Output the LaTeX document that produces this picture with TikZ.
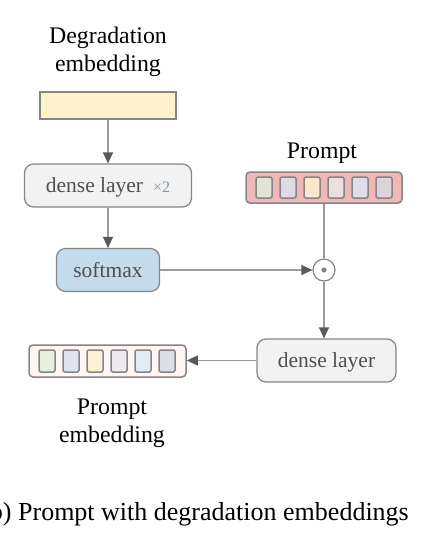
\documentclass[tikz,border=0pt]{standalone}
\usepackage{fontspec}
\setmainfont{Liberation Serif}
\usetikzlibrary{arrows.meta}
\definecolor{edgec}{HTML}{858585}
\definecolor{tipc}{HTML}{595959}
\definecolor{linec}{HTML}{9A9A9A}
\definecolor{txtg}{HTML}{4F4F4F}
\definecolor{boxgray}{HTML}{F2F2F2}
\definecolor{softc}{HTML}{C3DBEB}
\definecolor{yellowc}{HTML}{FFF2CC}
\definecolor{promptc}{HTML}{F2B8B8}
\definecolor{pec}{HTML}{FFF5F3}
\definecolor{xblue}{HTML}{7B96C0}
\definecolor{pa}{HTML}{E2E5D5}
\definecolor{pb}{HTML}{DEDBE6}
\definecolor{pcc}{HTML}{FDE6CB}
\definecolor{pd}{HTML}{EAE0E0}
\definecolor{pe}{HTML}{DEDDEA}
\definecolor{pf}{HTML}{DAD4DA}
\definecolor{ea}{HTML}{E5F0DD}
\definecolor{eb}{HTML}{DDE3F0}
\definecolor{ec}{HTML}{FFF1D6}
\definecolor{ed}{HTML}{EDEBEE}
\definecolor{ee}{HTML}{E0EBF5}
\definecolor{ef}{HTML}{DCDFE6}
\begin{document}
\begin{tikzpicture}[x=1pt,y=-1pt,
  box/.style={draw=edgec, line width=1.2pt, rounded corners=9pt, fill=boxgray, text=txtg,
    font=\fontsize{21.5}{25}\selectfont, inner sep=0pt, minimum height=43pt, text depth=0pt},
  label/.style={align=center, inner sep=0pt, font=\fontsize{23.8}{28}\selectfont},
  cell/.style={draw=edgec, line width=1.5pt, rounded corners=2pt, minimum width=16pt, inner sep=0pt},
  conn/.style={draw=linec, line width=1.3pt, -{Triangle[length=11pt,width=10pt,color=tipc]}},
  plain/.style={draw=linec, line width=1.3pt}]
\useasboundingbox (0,0) rectangle (446,551);
\clip (0,0) rectangle (446,551);
% labels
\node[label] (deglab) at (108,52) {Degradation\\embedding};
\node[label] (plab) at (322,153) {Prompt};
\node[label] (pelab) at (112,423) {Prompt\\embedding};
\node[anchor=base east, inner sep=0pt, font=\fontsize{26}{30}\selectfont] (cap) at (409,520) {(b) Prompt with degradation embeddings};
% degradation embedding bar
\node[draw=edgec, line width=1.2pt, fill=yellowc, minimum width=136pt, minimum height=27pt, inner sep=0pt] (yel) at (108,105.5) {};
% boxes
\node[box, minimum width=167pt] (dense1) at (108,185.5) {dense layer\hspace{10pt}{\fontsize{16}{16}\selectfont\color{xblue}×2}};
\node[box, fill=softc, minimum width=103pt] (soft) at (108,270) {softmax};
\node[box, minimum width=139pt] (dense2) at (326.5,360.5) {dense layer};
\node[draw=edgec, line width=1.2pt, fill=white, circle, minimum size=22pt, inner sep=0pt] (odot) at (324,270) {};
\fill[edgec] (odot.center) circle (2.6pt);
% prompt box
\node[draw=edgec, line width=1.5pt, rounded corners=4pt, fill=promptc, minimum width=156pt, minimum height=31pt, inner sep=0pt] (prompt) at (324,187.5) {};
\foreach \c [count=\i from 0] in {pa,pb,pcc,pd,pe,pf}
  \node[cell, fill=\c, minimum height=21pt] (pc\i) at (264+24*\i,187.5) {};
% prompt embedding box
\node[draw=edgec, line width=1.5pt, rounded corners=4pt, fill=pec, minimum width=157pt, minimum height=32pt, inner sep=0pt] (pemb) at (107.5,361) {};
\foreach \c [count=\i from 0] in {ea,eb,ec,ed,ee,ef}
  \node[cell, fill=\c, minimum height=22pt] (ec\i) at (47+24*\i,361) {};
% connectors
\draw[conn] (yel.south) -- (dense1.north);
\draw[conn] (dense1.south) -- (soft.north);
\draw[conn] (soft.east) -- (odot.west);
\draw[plain] (prompt.south) -- (odot.north);
\draw[conn] (odot.south) -- (odot.south |- dense2.north);
\draw[conn] (dense2.west) -- (dense2.west -| pemb.east);
\end{tikzpicture}
\end{document}
